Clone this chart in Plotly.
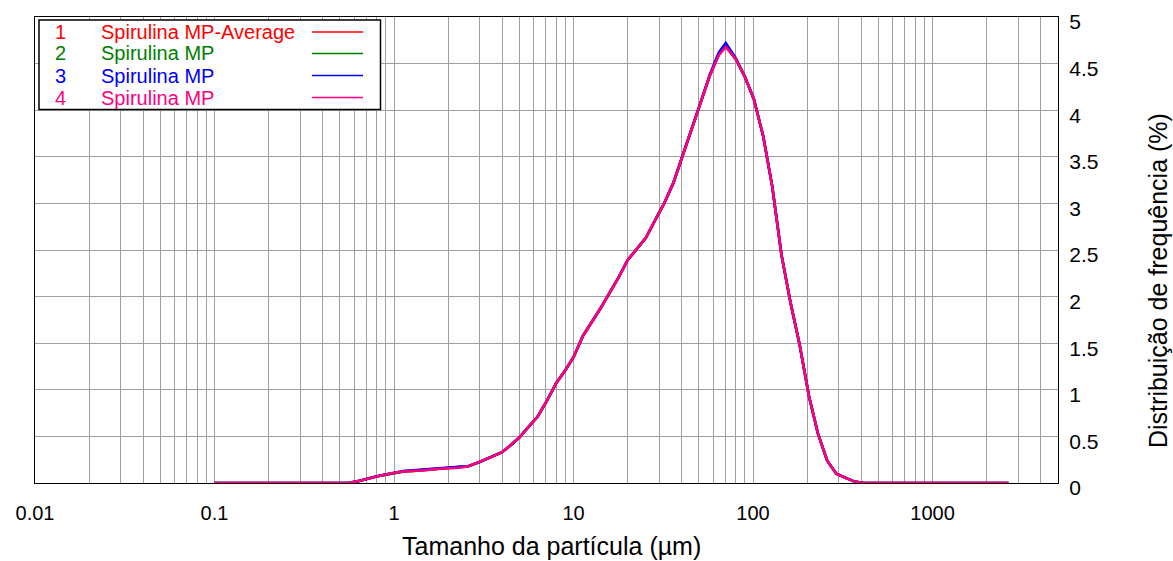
import plotly.graph_objects as go

# ---------------- data ----------------
sizes_um = [0.1, 0.2, 0.3, 0.4, 0.5, 0.56, 0.63, 0.71, 0.8, 0.9, 1.0, 1.13, 1.27, 1.5, 1.8,
            2.0, 2.3, 2.6, 3.0, 3.5, 4.0, 4.5, 5.0, 5.6, 6.3, 7.1, 8.0, 9.0, 10.0, 11.3,
            12.7, 14.2, 16.0, 18.0, 20.0, 22.5, 25.3, 28.5, 32.0, 36.0, 40.4, 45.4, 51.0,
            57.4, 64.5, 70.5, 80.0, 90.0, 101, 114, 128, 144, 162, 182, 205, 230, 259,
            291, 327, 368, 414, 500, 1000, 2000, 2650]

average = [0, 0, 0, 0, 0, 0.0, 0.02, 0.047, 0.07, 0.09, 0.11, 0.125, 0.13, 0.14, 0.155,
           0.16, 0.165, 0.18, 0.225, 0.28, 0.33, 0.41, 0.49, 0.60, 0.71, 0.88, 1.07, 1.21, 1.35, 1.58,
           1.73, 1.88, 2.05, 2.22, 2.39, 2.51, 2.63, 2.82, 3.00, 3.22, 3.50, 3.78, 4.07,
           4.37, 4.60, 4.69, 4.55, 4.36, 4.12, 3.72, 3.18, 2.45, 1.93, 1.48, 0.93, 0.53, 0.24,
           0.10, 0.055, 0.015, 0, 0, 0, 0, 0]

run_2 = [0, 0, 0, 0, 0, 0.0, 0.02, 0.047, 0.07, 0.09, 0.11, 0.125, 0.13, 0.14, 0.155,
         0.16, 0.165, 0.18, 0.225, 0.28, 0.33, 0.41, 0.49, 0.60, 0.71, 0.88, 1.07, 1.21, 1.35, 1.58,
         1.73, 1.88, 2.05, 2.22, 2.39, 2.51, 2.63, 2.82, 3.00, 3.22, 3.50, 3.78, 4.07,
         4.37, 4.60, 4.69, 4.55, 4.36, 4.12, 3.72, 3.18, 2.45, 1.93, 1.48, 0.93, 0.53, 0.24,
         0.10, 0.055, 0.015, 0, 0, 0, 0, 0]

run_3 = [0, 0, 0, 0, 0, 0.0, 0.02, 0.048, 0.072, 0.092, 0.112, 0.128, 0.135, 0.145, 0.16,
         0.163, 0.167, 0.182, 0.226, 0.28, 0.33, 0.41, 0.49, 0.60, 0.71, 0.88, 1.07, 1.21, 1.35, 1.58,
         1.73, 1.88, 2.05, 2.22, 2.39, 2.51, 2.63, 2.82, 3.00, 3.22, 3.50, 3.79, 4.08,
         4.38, 4.62, 4.72, 4.56, 4.36, 4.12, 3.72, 3.18, 2.45, 1.93, 1.48, 0.93, 0.53, 0.24,
         0.10, 0.055, 0.015, 0, 0, 0, 0, 0]

run_4 = [0, 0, 0, 0, 0, 0.0, 0.02, 0.047, 0.07, 0.09, 0.11, 0.124, 0.129, 0.138, 0.153,
         0.158, 0.164, 0.179, 0.225, 0.28, 0.33, 0.41, 0.49, 0.60, 0.71, 0.88, 1.07, 1.21, 1.35, 1.58,
         1.73, 1.88, 2.05, 2.22, 2.39, 2.51, 2.63, 2.82, 3.00, 3.22, 3.50, 3.78, 4.07,
         4.37, 4.59, 4.68, 4.55, 4.36, 4.12, 3.72, 3.18, 2.45, 1.93, 1.48, 0.93, 0.53, 0.24,
         0.10, 0.055, 0.015, 0, 0, 0, 0, 0]

series_names = ["Spirulina MP-Average", "Spirulina MP", "Spirulina MP", "Spirulina MP"]
series_values = [average, run_2, run_3, run_4]
series_colors = ["#ff0000", "#008000", "#0000ff", "#ff0080"]

x_tick_vals = [0.01, 0.02, 0.03, 0.04, 0.05, 0.06, 0.07, 0.08, 0.09,
               0.1, 0.2, 0.3, 0.4, 0.5, 0.6, 0.7, 0.8, 0.9,
               1, 2, 3, 4, 5, 6, 7, 8, 9,
               10, 20, 30, 40, 50, 60, 70, 80, 90,
               100, 200, 300, 400, 500, 600, 700, 800, 900,
               1000, 2000, 3000, 4000]
x_tick_text = ["0.01", "", "", "", "", "", "", "", "",
               "0.1", "", "", "", "", "", "", "", "",
               "1", "", "", "", "", "", "", "", "",
               "10", "", "", "", "", "", "", "", "",
               "100", "", "", "", "", "", "", "", "",
               "1000", "", "", ""]

x_title = "Tamanho da partícula (µm)"
y_title = "Distribuição de frequência (%)"

# ---------------- figure ----------------
W, H = 1173, 561
L, R, T, B = 35, 1058, 17, 483  # plot area in pixels
FONT = "Arial, Liberation Sans, sans-serif"


def px(x):
    return (x - L) / (R - L)


def py(y):
    return (B - y) / (B - T)


fig = go.Figure()
for name, vals, col in zip(series_names, series_values, series_colors):
    fig.add_trace(go.Scatter(x=sizes_um, y=vals, mode="lines", name=name,
                             line=dict(color=col, width=2.6), showlegend=False))

fig.update_layout(
    width=W, height=H,
    margin=dict(l=L, r=W - R, t=T, b=H - B, pad=0, autoexpand=False),
    paper_bgcolor="white", plot_bgcolor="white",
    font=dict(family=FONT, color="black", size=20),
    xaxis=dict(type="log", range=[-2, 3.699], automargin=False,
               tickmode="array", tickvals=x_tick_vals, ticktext=x_tick_text,
               showgrid=True, gridcolor="#a0a0a0", gridwidth=1,
               showline=True, linecolor="black", linewidth=1.3, mirror=True,
               ticks="", ticklabelstandoff=12, tickfont=dict(size=20),
               zeroline=False),
    yaxis=dict(range=[0, 5], side="right", dtick=0.5, tick0=0, automargin=False,
               showgrid=True, gridcolor="#a0a0a0", gridwidth=1,
               showline=True, linecolor="black", linewidth=1.3, mirror=True,
               ticks="", ticklabelstandoff=6, ticklabelshift=5, tickfont=dict(size=21),
               zeroline=False),
)

# axis titles
fig.add_annotation(text=x_title, xref="paper", yref="paper", x=px(551), y=py(546),
                   showarrow=False, font=dict(size=25, family=FONT, color="black"),
                   xanchor="center", yanchor="middle")
fig.add_annotation(text=y_title, xref="paper", yref="paper", x=px(1158), y=py(281),
                   textangle=-90, showarrow=False, font=dict(size=25, family=FONT, color="black"),
                   xanchor="center", yanchor="middle")

# legend box
fig.add_shape(type="rect", xref="paper", yref="paper",
              x0=px(39), x1=px(380.5), y0=py(109.5), y1=py(20),
              line=dict(color="black", width=1.5), fillcolor="white", layer="above")
row_y = [32, 53.5, 75.5, 97.5]
for i, (name, col, ry) in enumerate(zip(series_names, series_colors, row_y)):
    fig.add_annotation(text=str(i + 1), xref="paper", yref="paper", x=px(60), y=py(ry),
                       showarrow=False, xanchor="center", yanchor="middle",
                       font=dict(size=20, family=FONT, color=col))
    fig.add_annotation(text=name, xref="paper", yref="paper", x=px(99), y=py(ry),
                       showarrow=False, xanchor="left", yanchor="middle",
                       font=dict(size=20, family=FONT, color=col))
    fig.add_shape(type="line", xref="paper", yref="paper",
                  x0=px(312), x1=px(363), y0=py(ry), y1=py(ry),
                  line=dict(color=col, width=1.5), layer="above")

fig.write_html("out.html")
